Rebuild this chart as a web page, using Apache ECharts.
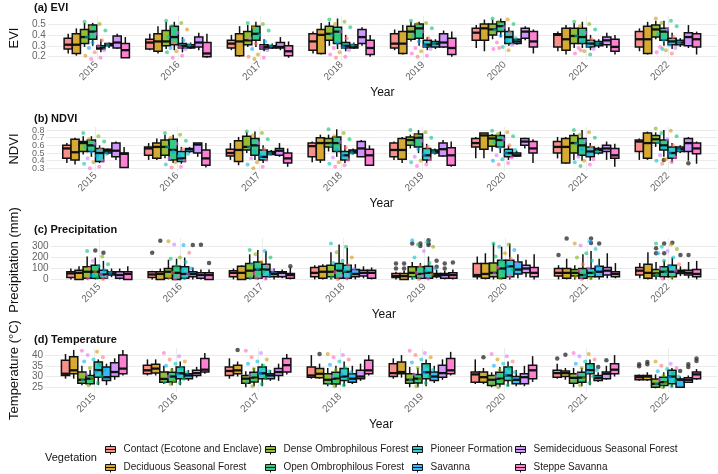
<!DOCTYPE html>
<html>
<head>
<meta charset="utf-8">
<script src="https://cdn.jsdelivr.net/npm/echarts@6/dist/echarts.min.js"></script>
<style>
html, body { margin: 0; padding: 0; background: #fff; }
#main { width: 718px; height: 474px; }
</style>
</head>
<body>
<div id="main"></div>
<script>
// years on the x axis
var years = ['2015', '2016', '2017', '2018', '2019', '2020', '2021', '2022'];

// vegetation classes (legend order) and their colours
var vegetation = [
    'Contact (Ecotone and Enclave)', 'Deciduous Seasonal Forest',
    'Dense Ombrophilous Forest', 'Open Ombrophilous Forest',
    'Pioneer Formation', 'Savanna',
    'Semideciduous Seasonal Forest', 'Steppe Savanna'
];
var vegColors = ['#F8766D', '#CD9600', '#7CAE00', '#00BE67', '#00BFC4', '#00A9FF', '#C77CFF', '#FF61CC'];

// box stats: one row per vegetation, one [low, q1, median, q3, high] per year
var eviStats = [
    [[.23,.27,.31,.37,.41],[.26,.27,.33,.36,.41],[.26,.28,.32,.35,.40],[.23,.26,.34,.41,.43],[.26,.28,.32,.41,.45],[.28,.35,.42,.46,.49],[.25,.29,.40,.41,.43],[.25,.29,.36,.43,.46]],
    [[.21,.23,.31,.41,.46],[.23,.25,.34,.41,.48],[.20,.21,.34,.41,.48],[.22,.23,.40,.45,.51],[.22,.23,.32,.43,.49],[.25,.35,.46,.50,.54],[.22,.26,.36,.46,.49],[.22,.23,.36,.48,.52]],
    [[.29,.32,.38,.45,.51],[.27,.30,.34,.44,.52],[.29,.31,.35,.43,.49],[.30,.35,.41,.48,.52],[.34,.36,.43,.48,.52],[.36,.40,.45,.50,.54],[.28,.32,.39,.46,.51],[.36,.38,.45,.49,.53]],
    [[.30,.36,.43,.49,.51],[.26,.31,.38,.48,.52],[.29,.35,.41,.48,.52],[.27,.32,.43,.47,.55],[.30,.37,.46,.50,.52],[.38,.43,.48,.52,.55],[.28,.32,.38,.46,.52],[.30,.35,.43,.46,.53]],
    [[.24,.27,.28,.30,.36],[.24,.28,.30,.32,.38],[.25,.27,.29,.31,.36],[.25,.28,.30,.33,.40],[.26,.29,.31,.35,.38],[.30,.32,.38,.43,.47],[.26,.29,.32,.35,.40],[.27,.31,.34,.37,.42]],
    [[.28,.30,.31,.32,.33],[.27,.28,.29,.31,.33],[.27,.28,.29,.30,.32],[.27,.28,.29,.31,.33],[.27,.29,.32,.34,.36],[.31,.32,.34,.36,.37],[.28,.30,.32,.34,.36],[.29,.31,.33,.35,.37]],
    [[.27,.28,.33,.39,.41],[.26,.29,.33,.38,.42],[.26,.28,.29,.33,.38],[.30,.32,.38,.45,.47],[.28,.29,.33,.41,.44],[.35,.37,.43,.46,.48],[.28,.31,.35,.38,.42],[.28,.30,.38,.42,.49]],
    [[.19,.19,.26,.32,.38],[.19,.20,.23,.33,.41],[.19,.21,.25,.30,.34],[.20,.22,.28,.35,.40],[.20,.22,.28,.37,.43],[.23,.29,.34,.43,.45],[.22,.25,.29,.36,.40],[.22,.29,.36,.41,.43]]
];
var ndviStats = [
    [[.37,.43,.56,.60,.63],[.41,.47,.56,.58,.63],[.41,.46,.50,.55,.63],[.38,.45,.59,.63,.65],[.41,.45,.54,.63,.65],[.43,.58,.63,.69,.71],[.43,.50,.58,.65,.71],[.41,.52,.65,.67,.69]],
    [[.35,.41,.51,.68,.70],[.41,.43,.58,.63,.69],[.34,.39,.54,.66,.71],[.37,.41,.63,.70,.74],[.37,.42,.54,.69,.71],[.43,.55,.73,.76,.76],[.36,.37,.58,.69,.71],[.41,.43,.63,.76,.78]],
    [[.48,.52,.63,.65,.72],[.43,.47,.58,.67,.74],[.50,.54,.58,.72,.77],[.52,.58,.63,.69,.74],[.56,.60,.67,.71,.74],[.52,.59,.69,.73,.75],[.41,.50,.63,.73,.76],[.58,.63,.68,.73,.77]],
    [[.45,.52,.60,.67,.72],[.37,.41,.54,.68,.74],[.41,.47,.60,.69,.78],[.45,.52,.63,.71,.81],[.50,.58,.70,.75,.80],[.50,.58,.67,.73,.78],[.40,.47,.60,.69,.80],[.45,.54,.60,.67,.80]],
    [[.37,.39,.50,.56,.60],[.36,.39,.43,.52,.58],[.37,.41,.45,.54,.60],[.37,.41,.47,.52,.60],[.37,.41,.47,.56,.62],[.41,.45,.50,.55,.60],[.40,.45,.52,.58,.63],[.38,.43,.50,.58,.63]],
    [[.48,.50,.53,.55,.56],[.50,.52,.55,.56,.58],[.47,.48,.50,.52,.54],[.48,.50,.52,.54,.56],[.48,.50,.52,.54,.56],[.45,.46,.47,.50,.53],[.48,.50,.54,.56,.58],[.50,.52,.55,.58,.60]],
    [[.41,.45,.53,.63,.65],[.45,.50,.61,.63,.63],[.45,.47,.53,.56,.63],[.45,.45,.56,.65,.67],[.45,.46,.55,.63,.67],[.56,.60,.65,.69,.70],[.41,.52,.56,.60,.65],[.40,.52,.63,.69,.71]],
    [[.31,.31,.49,.50,.58],[.31,.34,.43,.54,.63],[.32,.37,.43,.50,.56],[.33,.34,.47,.55,.60],[.32,.34,.47,.57,.65],[.37,.50,.56,.65,.68],[.32,.43,.47,.56,.62],[.36,.49,.56,.63,.65]]
];
var precStats = [
    [[0,18,55,70,100],[0,18,45,70,80],[0,25,60,80,100],[0,25,60,110,130],[0,18,30,55,70],[0,25,40,145,210],[0,30,60,100,130],[10,40,80,110,150]],
    [[0,0,60,85,120],[0,0,50,70,100],[0,0,60,120,130],[0,10,70,120,140],[0,0,30,55,80],[0,10,50,145,240],[0,10,60,100,190],[0,10,60,140,250]],
    [[0,10,70,115,210],[0,10,70,100,180],[0,10,80,145,230],[0,25,70,130,250],[0,25,60,115,160],[0,25,60,150,330],[0,30,60,90,130],[0,30,55,90,160]],
    [[0,10,70,130,200],[0,0,60,120,190],[0,10,90,160,270],[0,10,80,145,320],[0,10,50,115,150],[0,10,100,175,300],[0,10,40,100,230],[0,25,70,115,170]],
    [[0,10,45,85,170],[0,10,50,115,200],[0,25,90,140,260],[0,10,70,130,290],[0,10,60,120,210],[0,25,120,175,330],[0,25,60,100,260],[0,25,70,130,200]],
    [[20,40,55,70,100],[0,25,50,70,110],[0,25,50,70,100],[0,25,50,90,140],[10,25,40,55,90],[10,50,90,160,230],[0,25,70,120,190],[30,55,70,85,120]],
    [[0,10,40,70,100],[0,10,40,60,90],[10,25,60,70,90],[10,30,60,85,120],[0,10,40,55,80],[20,60,100,130,180],[10,40,80,110,240],[10,40,60,85,160]],
    [[0,0,50,70,120],[0,0,40,60,90],[0,10,40,55,110],[0,10,60,85,110],[0,10,40,60,90],[0,25,60,110,230],[10,25,50,70,150],[0,25,50,90,170]]
];
var tempStats = [
    [[29,30.5,31.3,37.6,40.5],[30.5,31.3,32.9,35.3,38],[29,30.5,32.6,34.5,38.5],[29,29.7,30.5,34.5,40],[29,30,31.6,36,38.5],[26.5,27.4,31,32.1,38],[29,29.7,31.6,32.9,36],[28,28.5,29.7,30.5,31]],
    [[29,31.3,32.9,39.2,42.4],[30.5,31.6,33.7,35.7,38],[30,31.3,32.9,35.3,37],[29,29.4,31.3,33.7,36],[29.5,31.3,32.1,36.8,40],[26.5,27.4,29.7,32.1,34],[28.5,30,31.6,32.6,34],[28,28.5,30,30.5,32]],
    [[26,26.9,28.5,32.1,35],[26.5,27.4,28.9,32.1,35],[25,26.9,29,30.5,32.5],[25.5,26.6,28.5,31.3,34],[25,26.9,28.5,31.3,34.5],[25,25.8,28.5,30.5,32],[25,26.9,29.4,31.3,34],[24.5,25,26.6,28.9,31]],
    [[26,26.6,29,30.5,33],[26,27.5,30,32,34],[25.5,27.5,29.5,32,34],[25,26.5,29,32,35],[25,27,29,31,34],[25,26.5,29,32,34.5],[25.5,27.4,29.5,32,34],[24.5,25.8,27.4,29.7,32]],
    [[26,29.7,33,36.8,38],[26,29,31.5,34.5,37],[25.5,29,31.5,34.5,36],[25.5,28.2,30,33.7,37],[25.5,29,32,36,38],[25.5,28.2,30.5,34.5,37],[26,31.3,33,36,38],[25,26.6,30,32.9,34]],
    [[26,28.2,29.7,34.5,36],[28,29,30.5,31.3,33],[28,29,30.5,31.3,33],[26.5,27.4,29,31.3,35],[27,28.2,30,32.1,35],[25.5,26.6,28.5,30,33],[27.5,28.2,29.4,30.5,32],[25,25,28.5,28.9,30]],
    [[28.5,30,32.1,36.4,38.5],[29.5,30.5,31.6,32.9,34.5],[28,30.5,32.1,33.7,36],[28,29,30,32.9,36],[28.5,29.7,31.6,35.3,38],[25.5,26.6,29.7,31.3,35],[28.5,29,31.3,32.1,35],[27,27.4,28.5,29.4,30.5]],
    [[30.5,31.3,33.7,40,42.4],[31.3,32.1,33.2,38.4,41],[31,32.1,35.3,38.4,40.5],[30.5,31.3,32.9,37.6,40],[30.5,31.3,32.9,38.4,41.5],[27.5,29,32.9,35.3,39.5],[30,31.3,33.2,36,40],[28.5,29,31,32.1,33.5]]
];

// outliers: [year index, vegetation index, value]
var eviOut = [];
var ndviOut = [[7,3,.41],[7,6,.365]];
var precOut = [
    [0,3,265],[0,4,245],
    [1,0,245],[1,1,355],[1,5,315],[1,6,318],[1,7,150],
    [2,7,120],
    [4,0,147],[4,0,100],[4,1,147],[4,1,100],[4,2,330],[4,3,330],[4,3,306],[4,4,360],[4,4,330],[4,4,315],[4,5,170],[4,5,116],[4,6,147],[4,6,100],[4,7,156],
    [6,0,225],[6,1,375],[6,4,375],[6,4,335],[6,5,330],
    [7,2,285],[7,2,240],[7,3,330],[7,3,240],[7,4,336],[7,5,225],[7,6,225]
];
var tempOut = [
    [2,1,42.4],[3,1,40.5],[5,1,39],
    [6,0,38.4],[6,1,40.2],[6,5,34.5],[6,6,37.6],
    [7,0,35.7],[7,0,34.8],[7,1,36.8],[7,1,35.7],[7,5,32.6],[7,6,35.7],[7,6,34.5],[7,7,38.4],[7,7,37.3]
];

// jittered observations per year: [vegetation index, value]
var eviPts = [
    [[3,.52],[2,.50],[1,.47],[3,.44],[6,.41],[4,.38],[0,.35],[5,.33],[4,.31],[7,.30],[5,.28],[6,.26],[0,.24],[1,.21],[7,.19],[7,.18]],
    [[3,.53],[2,.51],[3,.48],[1,.45],[6,.42],[4,.38],[5,.35],[0,.33],[4,.31],[7,.29],[5,.28],[6,.27],[1,.25],[3,.24],[7,.21],[7,.19]],
    [[3,.51],[2,.50],[1,.47],[3,.44],[4,.40],[6,.37],[5,.34],[0,.32],[4,.30],[7,.29],[5,.27],[6,.26],[1,.22],[0,.20],[7,.19],[1,.18]],
    [[3,.54],[2,.52],[1,.50],[3,.47],[6,.43],[4,.40],[0,.37],[5,.33],[4,.31],[5,.29],[7,.28],[6,.26],[1,.24],[7,.22],[7,.20],[0,.19]],
    [[3,.53],[2,.51],[1,.50],[3,.46],[6,.43],[4,.39],[0,.37],[5,.34],[4,.32],[5,.30],[7,.28],[6,.27],[1,.25],[7,.23],[7,.21],[0,.20]],
    [[3,.55],[1,.54],[2,.52],[3,.50],[6,.47],[4,.44],[0,.42],[5,.39],[4,.37],[5,.35],[7,.33],[6,.31],[4,.29],[7,.27],[1,.26],[0,.28]],
    [[3,.52],[2,.50],[1,.48],[3,.45],[6,.42],[4,.39],[0,.36],[5,.34],[4,.32],[5,.30],[7,.28],[6,.27],[1,.25],[7,.23],[3,.22],[0,.26]],
    [[1,.55],[3,.53],[2,.51],[3,.48],[6,.45],[4,.41],[0,.38],[5,.35],[4,.33],[5,.31],[7,.29],[6,.28],[1,.26],[7,.24],[0,.23],[4,.27]]
];
var ndviPts = [
    [[3,.76],[2,.72],[1,.68],[3,.65],[6,.62],[4,.58],[0,.55],[5,.52],[4,.49],[5,.46],[6,.43],[7,.40],[1,.38],[4,.36],[7,.32],[7,.30]],
    [[3,.76],[2,.74],[1,.70],[3,.66],[6,.62],[4,.58],[0,.55],[5,.52],[4,.49],[5,.46],[6,.43],[7,.40],[1,.38],[4,.35],[7,.32],[0,.31]],
    [[3,.78],[2,.76],[1,.73],[3,.68],[6,.63],[4,.58],[0,.55],[5,.52],[4,.49],[5,.46],[6,.43],[7,.41],[1,.38],[4,.35],[7,.32],[1,.30]],
    [[3,.81],[2,.76],[1,.72],[3,.68],[6,.64],[4,.60],[0,.57],[5,.54],[4,.50],[5,.47],[6,.44],[7,.41],[1,.38],[4,.36],[7,.34],[7,.32]],
    [[3,.80],[2,.77],[1,.73],[3,.70],[6,.66],[4,.62],[0,.58],[5,.55],[4,.51],[5,.48],[6,.45],[7,.42],[1,.40],[4,.38],[7,.35],[7,.33]],
    [[3,.79],[1,.77],[2,.75],[3,.72],[6,.68],[4,.64],[0,.60],[5,.57],[4,.54],[5,.50],[6,.47],[7,.44],[4,.42],[5,.40],[7,.37],[0,.35]],
    [[3,.80],[1,.77],[2,.74],[3,.70],[6,.66],[4,.62],[0,.58],[5,.55],[4,.52],[5,.48],[6,.45],[7,.42],[1,.40],[4,.38],[7,.35],[3,.33]],
    [[2,.82],[1,.79],[3,.76],[3,.72],[6,.68],[4,.64],[0,.60],[5,.57],[4,.54],[5,.50],[6,.47],[7,.44],[1,.42],[4,.40],[7,.38],[0,.36]]
];
var precPts = [
    [[3,260],[2,210],[6,170],[3,140],[4,120],[0,100],[5,85],[1,70],[4,60],[7,45],[5,35],[6,25],[3,15],[7,8],[0,3],[4,30]],
    [[1,350],[5,315],[6,320],[0,245],[2,200],[3,190],[4,160],[3,120],[5,100],[4,80],[0,60],[6,45],[7,30],[1,20],[4,10],[7,3]],
    [[3,270],[4,260],[2,230],[3,200],[1,160],[4,140],[0,120],[5,100],[6,85],[3,70],[7,55],[5,40],[6,25],[4,15],[7,5],[0,10]],
    [[4,330],[3,300],[2,250],[1,200],[3,170],[4,150],[0,130],[5,110],[6,95],[4,80],[7,65],[5,50],[6,35],[3,20],[7,8],[0,3]],
    [[5,360],[4,340],[3,320],[2,300],[6,260],[4,200],[3,150],[0,120],[5,100],[4,80],[7,60],[1,45],[6,30],[3,15],[7,5],[0,3]],
    [[3,330],[2,320],[4,300],[5,270],[1,240],[3,210],[0,190],[4,170],[6,150],[5,130],[7,110],[3,90],[4,70],[6,50],[7,30],[2,10]],
    [[1,330],[5,350],[6,310],[4,280],[3,240],[2,200],[4,170],[0,140],[5,120],[6,100],[7,80],[3,60],[4,40],[1,25],[2,10],[7,3]],
    [[3,330],[1,320],[4,300],[2,280],[6,260],[5,240],[4,200],[3,170],[0,140],[5,120],[6,100],[7,80],[4,60],[3,40],[2,20],[7,5]]
];
var tempPts = [
    [[7,42],[1,41.5],[6,40],[0,39],[4,38],[5,37],[3,35.5],[2,34],[4,33],[5,32],[6,31],[3,30],[2,29],[4,28],[3,27],[2,26]],
    [[7,41],[6,39.5],[0,38],[1,37],[4,36],[5,35],[3,34],[2,33],[4,32],[5,31],[6,30],[3,29],[2,28],[4,27.5],[3,27],[2,26.5]],
    [[7,42],[6,41],[0,39],[1,38],[4,37],[5,36],[3,35],[2,33.5],[4,32.5],[5,31.5],[6,30.5],[3,29.5],[2,28.5],[4,27.5],[3,26.5],[2,25.5]],
    [[1,40.5],[6,40],[7,39],[0,38],[4,37],[5,35.5],[3,34],[2,33],[4,32],[5,31],[6,30],[3,29],[2,28],[4,27],[3,26],[2,25.5]],
    [[7,42],[6,41],[0,40],[1,39],[4,38],[5,36.5],[3,35],[2,34],[4,33],[5,32],[6,31],[3,30],[2,29],[4,28],[3,27],[2,25.5]],
    [[7,40.5],[6,39.5],[1,38],[0,37],[4,36],[5,35],[3,34],[2,33],[4,32],[5,31],[6,30],[3,29],[2,28],[4,27],[3,26],[2,25]],
    [[7,41],[1,40.5],[6,39.5],[0,38],[4,37],[5,36],[3,35],[2,34],[4,33],[5,32],[6,31],[3,30],[2,29],[4,28],[3,27],[2,26]],
    [[1,37],[6,36],[0,35],[7,34],[4,33.5],[5,32.5],[3,31.5],[2,30.5],[4,30],[5,29.5],[6,28.5],[3,28],[2,27],[4,26.5],[3,25.5],[2,25]]
];

// y tick labels per panel (NDVI labels are split over two stacked axes so none get dropped)
var eviTicks = [0.2, 0.3, 0.4, 0.5];
var ndviTicks = [0.3, 0.5, 0.7];
var ndviTicks2 = [0.4, 0.6, 0.8];
var precTicks = [0, 100, 200, 300];
var tempTicks = [25, 30, 35, 40];

/*---------------- layout ----------------*/
var FONT = 'Liberation Sans, Arial, sans-serif';
var BOXW = 0.1;      // width of one box in x units
var JITTER = 0.15;   // half width of the jitter cloud
var GRID_TOP = [16, 127, 238, 348];
var GRID_H = 44;
var yearIdx = years.map(function (y, i) { return i; });

var panels = [
    { title: '(a) EVI', name: 'EVI', stats: eviStats, pts: eviPts, out: eviOut, ticks: eviTicks, min: 0.17, max: 0.573, tickSize: 10 },
    { title: '(b) NDVI', name: 'NDVI', stats: ndviStats, pts: ndviPts, out: ndviOut, ticks: ndviTicks, ticks2: ndviTicks2, min: 0.265, max: 0.84, tickSize: 9 },
    { title: '(c) Precipitation', name: 'Precipitation (mm)', stats: precStats, pts: precPts, out: precOut, ticks: precTicks, min: -24, max: 380, tickSize: 10 },
    { title: '(d) Temperature', name: 'Temperature (°C)', stats: tempStats, pts: tempPts, out: tempOut, ticks: tempTicks, min: 22.8, max: 43.3, tickSize: 10 }
];

function alpha(hex, a) {
    var n = parseInt(hex.slice(1), 16);
    return 'rgba(' + (n >> 16) + ',' + ((n >> 8) & 255) + ',' + (n & 255) + ',' + a + ')';
}

// box + whiskers for vegetation k, dodged inside each year
function boxRenderer(k) {
    return function (params, api) {
        var xc = api.value(0) + (k - 3.5) * BOXW;
        var half = api.size([BOXW, 0])[0] / 2;
        var lo = api.coord([xc, api.value(1)]);
        var q1 = api.coord([xc, api.value(2)]);
        var md = api.coord([xc, api.value(3)]);
        var q3 = api.coord([xc, api.value(4)]);
        var hi = api.coord([xc, api.value(5)]);
        var x = lo[0];
        var ink = '#111';
        return {
            type: 'group',
            children: [
                { type: 'line', shape: { x1: x, y1: lo[1], x2: x, y2: q1[1] }, style: { stroke: ink, lineWidth: 1.5 } },
                { type: 'line', shape: { x1: x, y1: q3[1], x2: x, y2: hi[1] }, style: { stroke: ink, lineWidth: 1.5 } },
                { type: 'rect', shape: { x: x - half, y: q3[1], width: half * 2, height: Math.max(q1[1] - q3[1], 1) },
                  style: { fill: alpha(vegColors[k], 0.8), stroke: ink, lineWidth: 1.5 } },
                { type: 'line', shape: { x1: x - half, y1: md[1], x2: x + half, y2: md[1] }, style: { stroke: ink, lineWidth: 2.3 } }
            ]
        };
    };
}

function yAxisFor(p, pi, ticks, withName) {
    return {
        type: 'value', gridIndex: pi, min: p.min, max: p.max, position: 'left', offset: 0,
        name: withName ? p.name : '', nameLocation: 'middle', nameGap: 21,
        nameTextStyle: { fontFamily: FONT, fontSize: 13, color: '#111' },
        axisLine: { show: false },
        axisTick: { show: false, customValues: ticks },
        axisLabel: {
            customValues: ticks, margin: 2, showMinLabel: true, showMaxLabel: true,
            fontFamily: FONT, fontSize: p.tickSize, color: '#666'
        },
        splitLine: { show: true, lineStyle: { color: '#ebebeb', width: 1 } }
    };
}

var grids = [], xAxes = [], yAxes = [], series = [], titles = [];

panels.forEach(function (p, pi) {
    grids.push({ left: 33, right: 1, top: GRID_TOP[pi], height: GRID_H });
    titles.push({
        text: p.title, left: 34, top: GRID_TOP[pi] - 14, padding: 0,
        textStyle: { fontFamily: FONT, fontSize: 11, fontWeight: 'bold', color: '#111' }
    });
    xAxes.push({
        type: 'value', gridIndex: pi, min: -0.6, max: 7.6,
        name: 'Year', nameLocation: 'middle', nameGap: 27,
        nameTextStyle: { fontFamily: FONT, fontSize: 12, color: '#111' },
        axisLine: { show: false },
        axisTick: { show: false, customValues: yearIdx },
        axisLabel: {
            customValues: yearIdx, rotate: 45, margin: 3,
            fontFamily: FONT, fontSize: 10, color: '#666',
            formatter: function (v) { return years[Math.round(v)]; }
        },
        splitLine: { show: true, lineStyle: { color: '#ebebeb', width: 1 } }
    });
    var yi = yAxes.length;
    yAxes.push(yAxisFor(p, pi, p.ticks, true));
    if (p.ticks2) {
        yAxes.push(yAxisFor(p, pi, p.ticks2, false));
    }

    // boxes
    vegetation.forEach(function (v, k) {
        series.push({
            type: 'custom', name: v, xAxisIndex: pi, yAxisIndex: yi,
            itemStyle: { color: vegColors[k] },
            data: p.stats[k].map(function (s, i) { return [i].concat(s); }),
            encode: { x: 0, y: [1, 2, 3, 4, 5] },
            renderItem: boxRenderer(k),
            silent: true, z: 2
        });
    });

    // outliers in black
    series.push({
        type: 'scatter', xAxisIndex: pi, yAxisIndex: yi, silent: true, z: 3,
        symbolSize: 4.5,
        itemStyle: { color: '#333' },
        data: p.out.map(function (o) { return [o[0] + (o[1] - 3.5) * BOXW, o[2]]; })
    });

    // jittered observations
    var pts = [];
    p.pts.forEach(function (yearPts, yr) {
        yearPts.forEach(function (pt, j) {
            var off = (((j * 0.618034) % 1) - 0.5) * 2 * JITTER;
            pts.push({ value: [yr + off, pt[1]], itemStyle: { color: alpha(vegColors[pt[0]], 0.72) } });
        });
    });
    series.push({
        type: 'scatter', xAxisIndex: pi, yAxisIndex: yi, silent: true, z: 4,
        symbolSize: 4, data: pts
    });
});

// legend: 4 columns of 2 keys
var KEY_ICON = 'path://M5,0V2M0,2H10V5H0ZM0,5H10V8H0ZM5,8V10';
var legendCols = [[0, 1], [2, 3], [4, 5], [6, 7]];
var legendLeft = [105, 265, 412, 515];
var legends = legendCols.map(function (col, c) {
    return {
        orient: 'vertical', left: legendLeft[c], top: 444, padding: 0,
        itemWidth: 10, itemHeight: 12, itemGap: 7, selectedMode: false,
        textStyle: { fontFamily: FONT, fontSize: 10, color: '#1a1a1a', padding: [0, 0, 0, 3] },
        data: col.map(function (k) {
            return {
                name: vegetation[k], icon: KEY_ICON,
                itemStyle: { color: alpha(vegColors[k], 0.8), borderColor: '#111', borderWidth: 1 }
            };
        })
    };
});
titles.push({
    text: 'Vegetation', left: 45, top: 452, padding: 0,
    textStyle: { fontFamily: FONT, fontSize: 11, fontWeight: 'normal', color: '#111' }
});

var myChart = echarts.init(document.getElementById('main'), null, { renderer: 'canvas' });
myChart.setOption({
    backgroundColor: '#fff',
    animation: false,
    title: titles,
    legend: legends,
    grid: grids,
    xAxis: xAxes,
    yAxis: yAxes,
    series: series
});
</script>
</body>
</html>
